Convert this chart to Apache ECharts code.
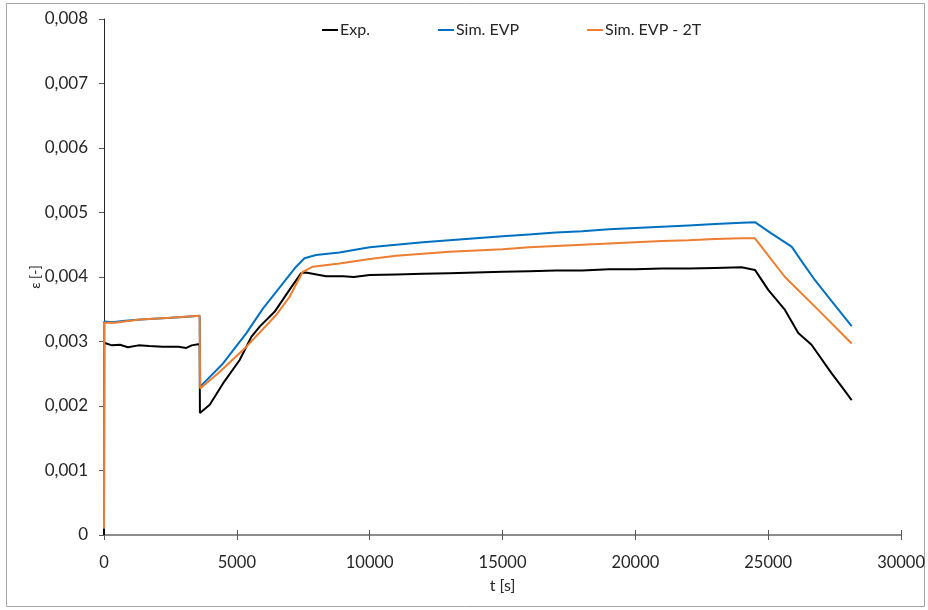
<!DOCTYPE html>
<html><head><meta charset="utf-8">
<script src="https://cdn.jsdelivr.net/npm/echarts@6/dist/echarts.min.js"></script>
<style>html,body{margin:0;padding:0;background:#fff}#c{width:928px;height:610px}</style>
</head><body><div id="c"></div>
<script>
var seriesNames = ["Exp.", "Sim. EVP", "Sim. EVP - 2T"];
var expData = [[0,0],[5,0.00298],[300,0.00294],[600,0.00295],[900,0.00291],[1300,0.00294],[1700,0.00293],[2200,0.00292],[2800,0.00292],[3100,0.0029],[3300,0.00294],[3600,0.00296],[3610,0.00189],[3980,0.00202],[4480,0.00235],[5100,0.00271],[5545,0.00307],[5860,0.00323],[6420,0.00346],[6980,0.0038],[7420,0.00406],[7600,0.00407],[8000,0.00404],[8360,0.00401],[9000,0.00401],[9400,0.004],[10000,0.00403],[11000,0.00404],[12000,0.00405],[13000,0.00406],[14000,0.00407],[15000,0.00408],[16000,0.00409],[17000,0.0041],[18000,0.0041],[19000,0.00412],[20000,0.00412],[21000,0.00413],[22000,0.00413],[23000,0.00414],[24000,0.00415],[24500,0.00411],[25000,0.0038],[25630,0.00349],[26130,0.00313],[26630,0.00295],[27380,0.00251],[27800,0.00228],[28140,0.00209]];
var evpData = [[0,0.0001],[10,0.00331],[300,0.0033],[800,0.00332],[1400,0.00334],[2200,0.00336],[3000,0.00338],[3600,0.0034],[3620,0.0023],[4480,0.00266],[5360,0.00313],[5980,0.00351],[6480,0.00377],[7230,0.00416],[7545,0.00429],[7980,0.00434],[8860,0.00438],[10000,0.00446],[11000,0.0045],[12000,0.00454],[13000,0.00457],[14000,0.0046],[15000,0.00463],[16000,0.00466],[17000,0.00469],[18000,0.00471],[19000,0.00474],[20000,0.00476],[21000,0.00478],[22000,0.0048],[23000,0.00482],[24000,0.00484],[24500,0.00485],[25100,0.00468],[25880,0.00447],[26300,0.00422],[26760,0.00395],[27400,0.00362],[28140,0.00324]];
var evp2tData = [[0,0.0001],[10,0.00329],[400,0.00329],[1350,0.00334],[2500,0.00337],[3600,0.0034],[3620,0.00227],[4360,0.00253],[5360,0.00292],[6480,0.00341],[6980,0.00369],[7480,0.00408],[7860,0.00416],[8860,0.00421],[10000,0.00428],[11000,0.00433],[12000,0.00436],[13000,0.00439],[14000,0.00441],[15000,0.00443],[16000,0.00446],[17000,0.00448],[18000,0.0045],[19000,0.00452],[20000,0.00454],[21000,0.00456],[22000,0.00457],[23000,0.00459],[24000,0.0046],[24500,0.0046],[25630,0.004],[26880,0.00349],[28140,0.00297]];
var colors = ["#000000", "#0070C0", "#ED7D31"];
var FONT = "Lato, 'Open Sans', sans-serif";

var chart = echarts.init(document.getElementById('c'));
function mk(name, data, color){
  return {name:name, type:'line', data:data, showSymbol:false, symbol:'none', xAxisIndex:0,
    lineStyle:{color:color, width:2}, itemStyle:{color:color}, animation:false, z:2};
}
chart.setOption({
  animation:false,
  textStyle:{fontFamily:FONT},
  graphic:[{type:'rect', shape:{x:6.5,y:3.5,width:918,height:603}, style:{fill:null, stroke:'#a6a6a6', lineWidth:1}, silent:true, z:-1}],
  legend:{top:17, left:317, itemGap:68, itemWidth:16, itemHeight:2, icon:'rect',
    data:seriesNames, textStyle:{fontFamily:FONT, fontSize:16, color:'#262626', padding:[0,0,0,-3]}},
  grid:{left:104, right:25, top:19, bottom:75, containLabel:false},
  xAxis:[{type:'value', min:0, max:30000, interval:5000, name:'t [s]', nameLocation:'middle', nameGap:43,
    nameTextStyle:{fontFamily:FONT, fontSize:16, color:'#262626'},
    axisLine:{lineStyle:{color:'#8c8c8c', width:2}},
    axisTick:{show:true, inside:false, length:5, lineStyle:{color:'#595959', width:1}},
    axisLabel:{fontFamily:FONT, fontSize:16.5, color:'#262626', margin:19, formatter:function(v){return String(v);}},
    splitLine:{show:false}},
    {type:'value', position:'bottom', min:0, max:30000, interval:5000,
    axisLine:{show:false}, axisTick:{show:true, inside:true, length:5, lineStyle:{color:'#595959', width:1}},
    axisLabel:{show:false}, splitLine:{show:false}}],
  yAxis:{type:'value', min:0, max:0.008, interval:0.001, name:'ε [-]', nameLocation:'middle', nameGap:62, nameRotate:90,
    nameMoveOverlap:false,
    nameTextStyle:{fontFamily:FONT, fontSize:14, color:'#262626'},
    axisLine:{show:true, lineStyle:{color:'#262626', width:1}},
    axisTick:{show:true, length:5, lineStyle:{color:'#595959'}},
    axisLabel:{fontFamily:FONT, fontSize:17, color:'#262626', margin:16,
      formatter:function(v){ return v===0 ? '0' : v.toFixed(3).replace('.', ','); }},
    splitLine:{show:false}},
  series:[mk(seriesNames[0], expData, colors[0]), mk(seriesNames[1], evpData, colors[1]), mk(seriesNames[2], evp2tData, colors[2])]
});
</script></body></html>
